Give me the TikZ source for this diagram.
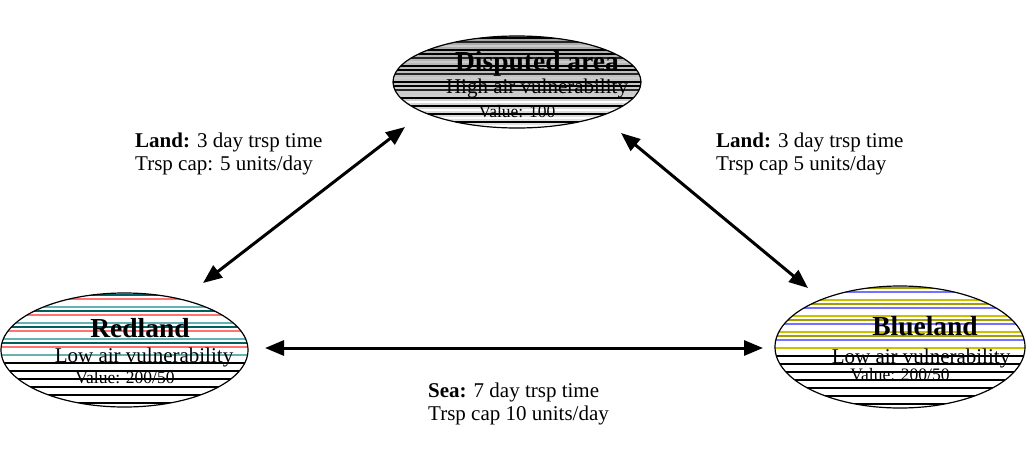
\documentclass[tikz,border=0pt]{standalone}
\usepackage{fontspec}
\setmainfont{Liberation Serif}
\usetikzlibrary{arrows.meta,shapes.geometric,calc}

% band colours for the striped region fills
\colorlet{dsp0}{black}\colorlet{dsp1}{black!85}\colorlet{dsp2}{gray!40}\colorlet{dsp3}{black}
\colorlet{red0}{teal!75!black}\colorlet{red1}{red!55}\colorlet{red2}{white}\colorlet{red3}{teal!60}
\colorlet{blu0}{olive!80!yellow}\colorlet{blu1}{blue!55}\colorlet{blu2}{white}\colorlet{blu3}{yellow!55!olive}

\begin{document}
\begin{tikzpicture}[x=1pt, y=-1pt,
    region/.style={ellipse, draw, line width=1.2pt, inner sep=0pt},
    bands/.style 2 args={path picture={
        \fill[#2] (path picture bounding box.north west) rectangle (path picture bounding box.south east);
        \foreach \k in {0,...,31}{
          \pgfmathtruncatemacro\m{mod(\k,4)}
          \ifnum\k>15 \ifodd\m \def\bc{black}\else\def\bc{white}\fi \else \def\bc{#1\m}\fi
          \draw[\bc, line width=1.4pt] ($(path picture bounding box.north west)+(0,2+4*\k)$) -- ++(260,0);
        }}},
    title/.style={anchor=base, font=\fontsize{27.5}{30}\selectfont\bfseries},
    sub/.style={anchor=base, font=\fontsize{21}{24}\selectfont},
    val/.style={anchor=base, font=\fontsize{17.5}{20}\selectfont},
    route/.style={anchor=north west, inner sep=0pt, align=left, font=\fontsize{21}{23}\selectfont},
    link/.style={line width=3pt, {Triangle[length=19pt,width=15pt]}-{Triangle[length=19pt,width=15pt]}}
]
\useasboundingbox (0,0) rectangle (1026,472);

\node[region, minimum width=248pt, minimum height=92pt, bands={dsp}{top color=gray!70, bottom color=gray!20}] (dispute) at (517,82) {};
\node[region, minimum width=247pt, minimum height=114pt, bands={red}{white}] (redland) at (124.5,350) {};
\node[region, minimum width=250pt, minimum height=122pt, bands={blu}{white}] (blueland) at (900,347) {};

\node[title] (dispute-t) at (537,70) {Disputed area};
\node[sub] (dispute-s) at (537,93) {High air vulnerability};
\node[val] (dispute-v) at (517,117) {Value: 100};

\node[title] (redland-t) at (140,337) {Redland};
\node[sub] (redland-s) at (144,362) {Low air vulnerability};
\node[val] (redland-v) at (125,383) {Value: 200/50};

\node[title] (blueland-t) at (925,335) {Blueland};
\node[sub] (blueland-s) at (921,363) {Low air vulnerability};
\node[val] (blueland-v) at (900,380) {Value: 200/50};

\node[route] (land-l) at (135,133) {\textbf{Land:} 3 day trsp time\\Trsp cap: 5 units/day};
\node[route] (land-r) at (716,133) {\textbf{Land:} 3 day trsp time\\Trsp cap 5 units/day};
\node[route] (sea) at (428,383) {\textbf{Sea:} 7 day trsp time\\Trsp cap 10 units/day};

% arrow ends
\coordinate (l-lo) at (203,283);
\coordinate (l-hi) at (405,127);
\coordinate (r-hi) at (621,133);
\coordinate (r-lo) at (808,288);
\coordinate (s-w) at (265,348);
\coordinate (s-e) at (763,348);

\draw[link] (l-lo) -- (l-hi);
\draw[link] (r-hi) -- (r-lo);
\draw[link] (s-w) -- (s-e);
\end{tikzpicture}
\end{document}
